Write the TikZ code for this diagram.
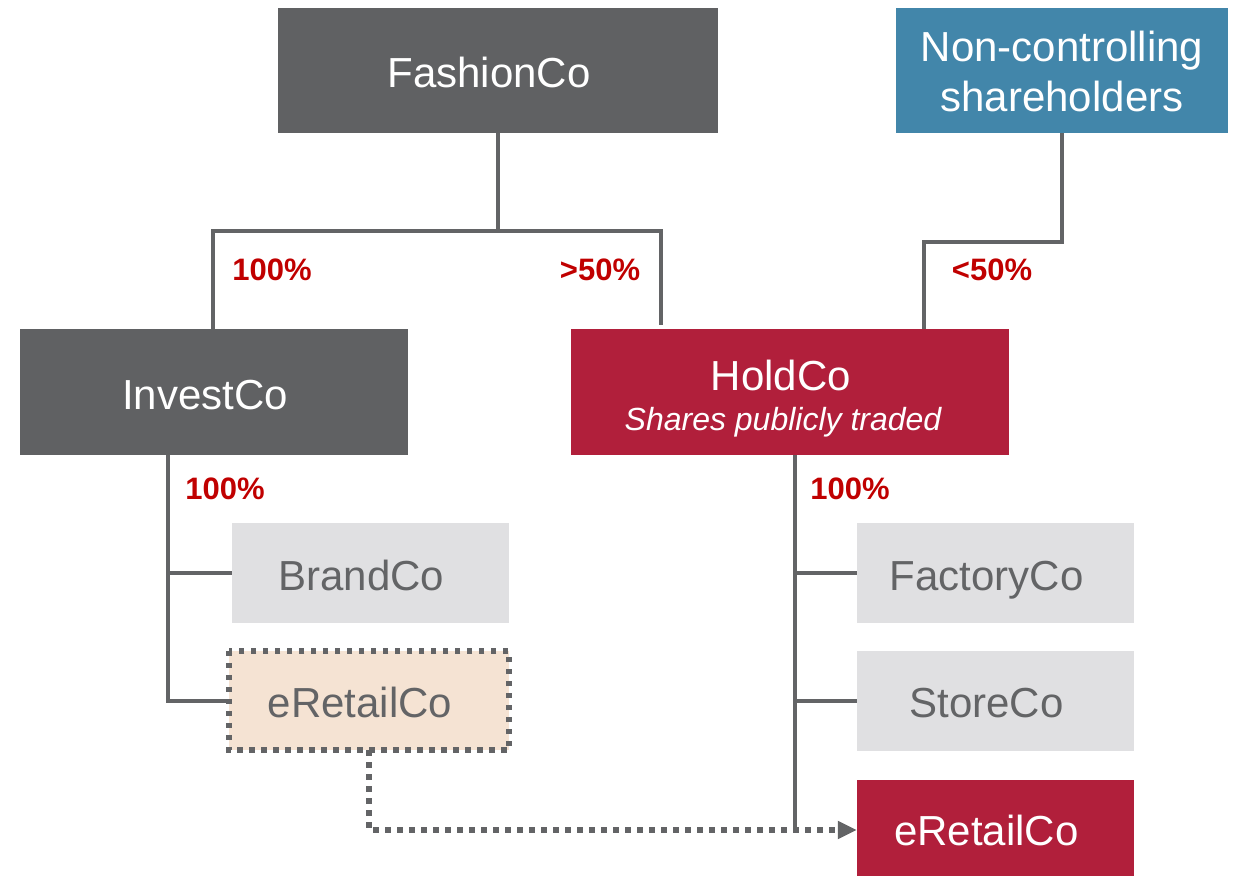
\documentclass[tikz,border=0pt]{standalone}
\usepackage{fontspec}
\setmainfont{Liberation Sans}
\usetikzlibrary{arrows.meta}
\definecolor{coGray}{HTML}{606163}
\definecolor{coBlue}{HTML}{4286AA}
\definecolor{coRed}{HTML}{B11F3B}
\definecolor{coLight}{HTML}{E0E0E2}
\definecolor{coPeach}{HTML}{F5E3D3}
\definecolor{coText}{HTML}{636466}
\definecolor{coLine}{HTML}{636466}
\definecolor{coPct}{HTML}{C00000}
\tikzset{
  x=1pt, y=-1pt,
  entity/.style={draw=none, inner sep=0pt, minimum width=#1},
  bigtxt/.style={font=\fontsize{42}{50}\selectfont, text height=30pt, text depth=0pt},
  darkbox/.style={fill=coGray, text=white},
  redbox/.style={fill=coRed, text=white},
  subbox/.style={fill=coLight, text=coText, minimum width=277pt, minimum height=100pt},
  conn/.style={draw=coLine, line width=4pt},
  dotconn/.style={draw=coLine, line width=5.5pt, dash pattern=on 5.5pt off 6.5pt},
  pct/.style={text=coPct, font=\fontsize{31}{36}\selectfont\bfseries}
}
\begin{document}
\begin{tikzpicture}
\useasboundingbox (0,0) rectangle (1235,876);

% top level owners
\node[entity=440pt, minimum height=125pt, darkbox] (fashion) at (498,70.5) {};
\node[bigtxt, text=white] (fashionT) at ([xshift=-9pt,yshift=-2pt]fashion.center) {FashionCo};
\node[entity=332pt, minimum height=125pt, fill=coBlue] (nc) at (1062,70.5) {};
\node[font=\fontsize{42}{50}\selectfont, text=white, align=center] (ncT) at ([yshift=-1pt]nc.center) {Non-controlling\\shareholders};

% intermediate companies
\node[entity=388pt, minimum height=126pt, darkbox] (invest) at (214,392) {};
\node[bigtxt, text=white] (investT) at ([xshift=-9pt,yshift=-2pt]invest.center) {InvestCo};
\node[entity=438pt, minimum height=126pt, redbox] (hold) at (790,392) {};
\node[bigtxt, text=white] (holdT) at ([xshift=-9pt,yshift=17pt]hold.center) {HoldCo};
\node[text=white, font=\fontsize{32}{38}\selectfont\itshape] (holdS) at ([xshift=-7pt,yshift=-30pt]hold.center) {Shares publicly traded};

% subsidiaries
\node[entity=277pt, subbox] (brand) at (370.5,573) {};
\node[bigtxt, text=coText] (brandT) at ([xshift=-9pt,yshift=-2pt]brand.center) {BrandCo};
\node[entity=280pt, minimum height=99pt, fill=coPeach] (eret1) at (369,700.5) {};
\draw[dotconn] (eret1.north west) rectangle (eret1.south east);
\node[bigtxt, text=coText] (eret1T) at ([xshift=-9pt,yshift=-2pt]eret1.center) {eRetailCo};

\node[entity=277pt, subbox] (factory) at (995.5,573) {};
\node[bigtxt, text=coText] (factoryT) at ([xshift=-9pt,yshift=-2pt]factory.center) {FactoryCo};
\node[entity=277pt, subbox] (store) at (995.5,700.5) {};
\node[bigtxt, text=coText] (storeT) at ([xshift=-9pt,yshift=-2pt]store.center) {StoreCo};
\node[entity=277pt, minimum height=96pt, redbox] (eret2) at (995.5,828) {};
\node[bigtxt, text=white] (eret2T) at ([xshift=-9pt,yshift=-2pt]eret2.center) {eRetailCo};

% ownership lines from the top
\coordinate (busL) at (213,231);
\coordinate (busR) at (661,231);
\draw[conn] (fashion.south) -- (fashion.south |- busL);
\draw[conn] (busL |- invest.north) -- (busL) -- (busR) -- ([yshift=4pt]busR |- hold.north);
\coordinate (ncj) at (924,242);
\draw[conn] (nc.south) |- (ncj) -- (ncj |- hold.north);

% InvestCo subsidiaries
\coordinate (tx) at (168,455);
\draw[conn] (tx |- invest.south) |- (eret1.west);
\draw[conn] (tx |- brand.west) -- (brand.west);

% HoldCo subsidiaries
\coordinate (hx) at (795,455);
\draw[conn] (hx |- hold.south) -- ([yshift=-2pt]hx |- eret2.west);
\draw[conn] (hx |- factory.west) -- (factory.west);
\draw[conn] (hx |- store.west) -- (store.west);

% planned transfer of eRetailCo
\coordinate (dx) at (369,750);
\coordinate (dy) at (369,830);
\draw[dotconn, -{Triangle[length=19pt,width=17pt,sep=0pt]}] (dx |- eret1.south) -- (dy) -- (dy -| eret2.west);

% shareholding percentages
\node[pct] (p1) at (272,270) {100\%};
\node[pct] (p2) at (600,270) {>50\%};
\node[pct] (p3) at (992,270) {<50\%};
\node[pct] (p4) at (225,489) {100\%};
\node[pct] (p5) at (850,489) {100\%};
\end{tikzpicture}
\end{document}
